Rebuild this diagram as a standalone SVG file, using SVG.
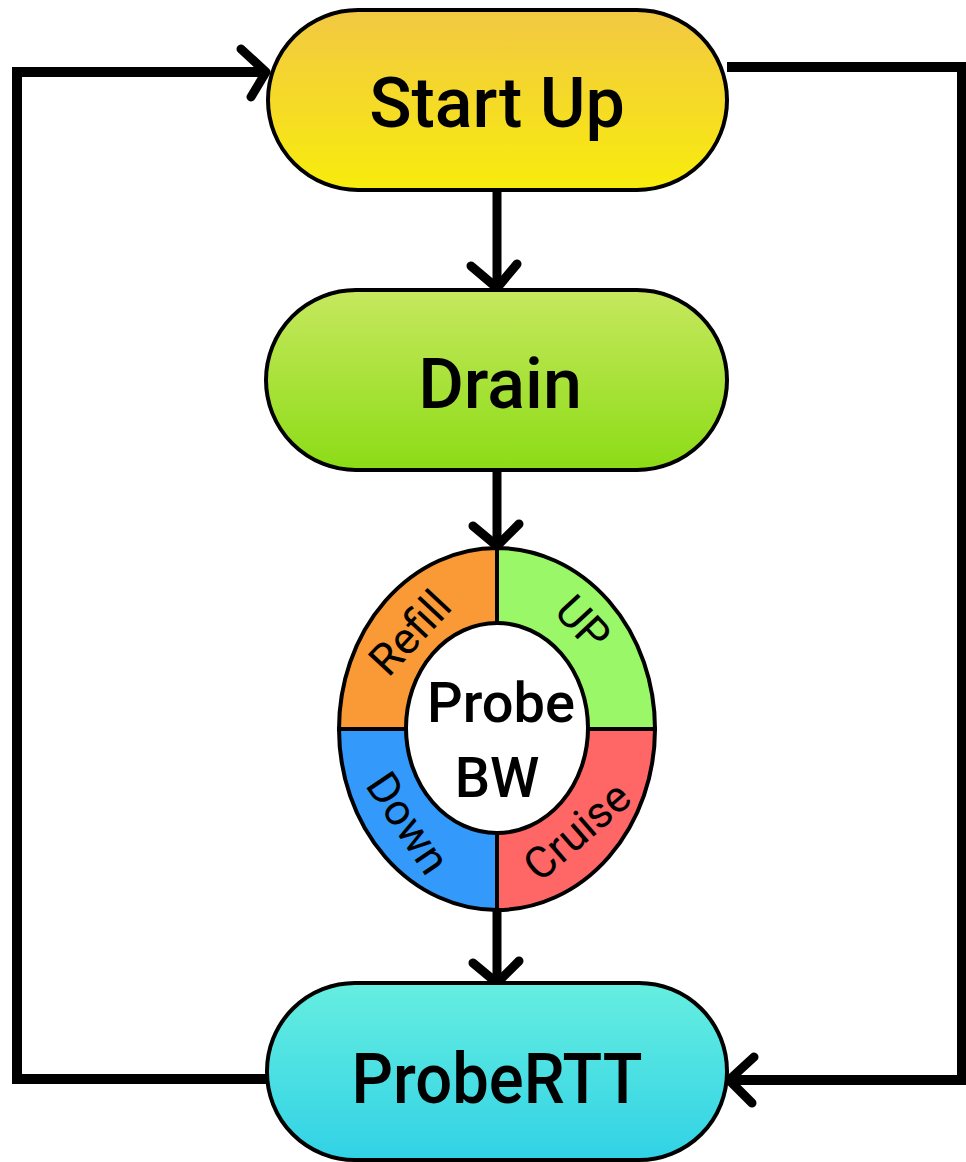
<svg xmlns="http://www.w3.org/2000/svg" width="966" height="1162" viewBox="0 0 966 1162">
  <defs>
    <linearGradient id="gStart" x1="0" y1="0" x2="0" y2="1">
      <stop offset="0" stop-color="#F2C843"/>
      <stop offset="1" stop-color="#F8EC0C"/>
    </linearGradient>
    <linearGradient id="gDrain" x1="0" y1="0" x2="0" y2="1">
      <stop offset="0" stop-color="#C6E85E"/>
      <stop offset="1" stop-color="#8CDC16"/>
    </linearGradient>
    <linearGradient id="gRtt" x1="0" y1="0" x2="0" y2="1">
      <stop offset="0" stop-color="#66EEE0"/>
      <stop offset="1" stop-color="#31D2E6"/>
    </linearGradient>
    <style>
      .node { stroke:#000; stroke-width:4; }
      .lbl { font-family:"Roboto","Liberation Sans",sans-serif; font-weight:500; fill:#000; text-anchor:middle; }
      .big { font-size:70px; }
      .seg { font-size:44px; font-weight:400; }
      .conn { fill:none; stroke:#000; stroke-width:10; }
      .arr { fill:none; stroke:#000; stroke-width:9; }
      .head { fill:none; stroke:#000; stroke-width:9; stroke-linecap:round; stroke-linejoin:round; }
      .q { stroke:#000; stroke-width:4; }
    </style>
  </defs>

  <g id="connectors">
    <polyline class="conn" points="268,1079 17,1079 17,72 262,72"/>
    <polyline class="conn" points="727,67 962,67 962,1080 732,1080"/>
    <line class="arr" x1="497" y1="190" x2="497" y2="286"/>
    <line class="arr" x1="497" y1="470" x2="497" y2="544"/>
    <line class="arr" x1="497" y1="910" x2="497" y2="981"/>
    <path class="head" d="M241,49 L266,72 L251,97"/>
    <path class="head" d="M754,1057 L729,1080 L752,1103"/>
    <path class="head" d="M471,266 L497,288 L517,264"/>
    <path class="head" d="M473,526 L497,546 L519,524"/>
    <path class="head" d="M473,963 L497,983 L519,961"/>
  </g>

  <g id="node-startup">
    <rect class="node" x="268" y="10" width="459" height="180" rx="90" fill="url(#gStart)"/>
    <text class="lbl big" x="497" y="127">Start Up</text>
  </g>

  <g id="node-drain">
    <rect class="node" x="266" y="290" width="461" height="180" rx="90" fill="url(#gDrain)"/>
    <text class="lbl big" x="500" y="408">Drain</text>
  </g>

  <g id="node-probebw">
    <path class="q" d="M497,729 L497,548 A158,181 0 0 0 339,729 Z" fill="#F99A36"/>
    <path class="q" d="M497,729 L497,548 A158,181 0 0 1 655,729 Z" fill="#99F768"/>
    <path class="q" d="M497,729 L339,729 A158,181 0 0 0 497,910 Z" fill="#3399FB"/>
    <path class="q" d="M497,729 L655,729 A158,181 0 0 1 497,910 Z" fill="#FF6666"/>
    <ellipse class="q" cx="497" cy="728" rx="91" ry="105" fill="#FFFFFF"/>
    <text class="lbl seg" transform="translate(410,633) rotate(-47)" y="15">Refill</text>
    <text class="lbl seg" transform="translate(583,623) rotate(47)" y="15">UP</text>
    <text class="lbl seg" transform="translate(408,823) rotate(56)" y="15">Down</text>
    <text class="lbl seg" transform="translate(577,831) rotate(-41)" y="15">Cruise</text>
    <text class="lbl" x="501" y="722" font-size="56" font-weight="400">Probe</text>
    <text class="lbl" x="497" y="797" font-size="56" font-weight="400">BW</text>
  </g>

  <g id="node-probertt">
    <rect class="node" x="267" y="983" width="460" height="177" rx="88" fill="url(#gRtt)"/>
    <text class="lbl big" x="497" y="1103" textLength="291" lengthAdjust="spacingAndGlyphs">ProbeRTT</text>
  </g>
</svg>
